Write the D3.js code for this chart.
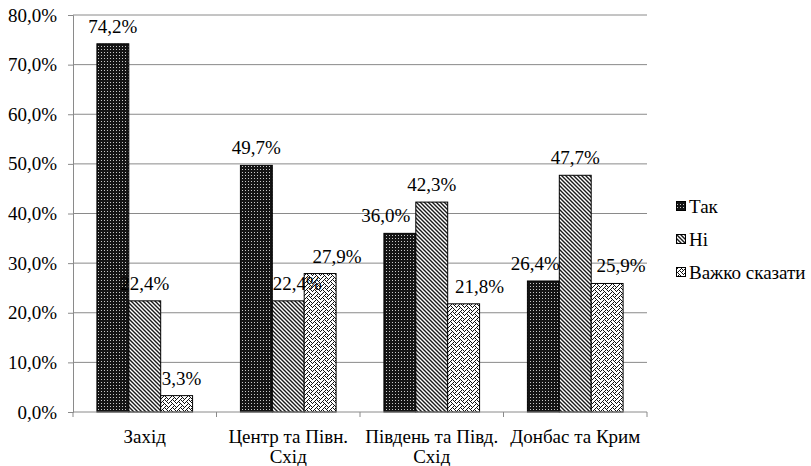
<!DOCTYPE html>
<html>
<head>
<meta charset="utf-8">
<script src="https://cdn.jsdelivr.net/npm/d3@7"></script>
<style>
  body { margin: 0; background: #fff; }
</style>
</head>
<body>
<svg id="chart" width="811" height="466"></svg>
<script>
var regions = [["Захід"], ["Центр та Півн.", "Схід"], ["Південь та Півд.", "Схід"], ["Донбас та Крим"]];
var series = ["Так", "Ні", "Важко сказати"];
var tak = [74.2, 49.7, 36.0, 26.4];
var ni = [22.4, 22.4, 42.3, 47.7];
var vazhko = [3.3, 27.9, 21.8, 25.9];
var yTicks = [0, 10, 20, 30, 40, 50, 60, 70, 80];

var values = [tak, ni, vazhko];
var fills = ["url(#patTak)", "url(#patNi)", "url(#patVazhko)"];
var serif = "Liberation Serif";
var fs = 19;
// label nudges as placed in the original (px), per series then region
var labelShift = [[0, 0, -14, -8], [0, 9, 0, 0], [5, 17, 16, 14]];

var svg = d3.select("#chart"),
    margin = {top: 15, right: 164, bottom: 54, left: 73},
    width = +svg.attr("width") - margin.left - margin.right,
    height = +svg.attr("height") - margin.top - margin.bottom,
    g = svg.append("g").attr("transform", "translate(" + margin.left + "," + margin.top + ")");

// fill patterns
var defs = svg.append("defs");
var p1 = defs.append("pattern").attr("id", "patTak").attr("patternUnits", "userSpaceOnUse")
    .attr("width", 3).attr("height", 3);
p1.append("rect").attr("width", 3).attr("height", 3).attr("fill", "#141414");
p1.append("rect").attr("x", 1).attr("y", 1).attr("width", 1).attr("height", 1).attr("fill", "#c8c8c8");

var p2 = defs.append("pattern").attr("id", "patNi").attr("patternUnits", "userSpaceOnUse")
    .attr("width", 4).attr("height", 4);
p2.append("rect").attr("width", 4).attr("height", 4).attr("fill", "#fff");
p2.append("path").attr("d", "M-1,-1 L5,5 M-1,3 L1,5 M3,-1 L5,1")
    .attr("stroke", "#1a1a1a").attr("stroke-width", 1.4);

var weave = [0x11, 0x2A, 0x44, 0xA2, 0x11, 0x28, 0x44, 0x8A];
var p3 = defs.append("pattern").attr("id", "patVazhko").attr("patternUnits", "userSpaceOnUse")
    .attr("width", 8).attr("height", 8);
p3.append("rect").attr("width", 8).attr("height", 8).attr("fill", "#fff");
weave.forEach(function(row, r) {
  for (var c = 0; c < 8; c++) {
    if (row & (0x80 >> c)) {
      p3.append("rect").attr("x", c).attr("y", r).attr("width", 1).attr("height", 1).attr("fill", "#111");
    }
  }
});

var x = d3.scaleBand().domain(d3.range(regions.length)).range([0, width]).padding(0);
var inner = d3.scaleBand().domain(d3.range(series.length))
    .range([0, x.bandwidth()]).paddingOuter(0.75).paddingInner(0);
var y = d3.scaleLinear().domain([0, 80]).range([height, 0]);

// gridlines
g.selectAll(".grid").data(yTicks.slice(1)).enter().append("line")
    .attr("x1", 0).attr("x2", width)
    .attr("y1", function(d) { return y(d); }).attr("y2", function(d) { return y(d); })
    .attr("stroke", "#8a8a8a").attr("stroke-width", 1);

// y axis
var yAxis = g.append("g")
    .call(d3.axisLeft(y).tickValues(yTicks).tickSize(5).tickPadding(11)
      .tickFormat(function(d) { return d.toFixed(1).replace(".", ",") + "%"; }));
yAxis.attr("font-family", serif).attr("font-size", fs);
yAxis.select(".domain").attr("stroke", "#8a8a8a").attr("d", "M-5," + (height + 0.5) + "H0.5V0.5H-5");
yAxis.selectAll(".tick line").attr("stroke", "#8a8a8a");
yAxis.selectAll(".tick text").attr("fill", "#000");

// bars
for (var s = 0; s < series.length; s++) {
  g.selectAll(".bar" + s).data(values[s]).enter().append("rect")
      .attr("x", function(d, i) { return x(i) + inner(s); })
      .attr("y", function(d) { return y(d); })
      .attr("width", inner.bandwidth())
      .attr("height", function(d) { return height - y(d); })
      .attr("fill", fills[s])
      .attr("stroke", "#000").attr("stroke-width", 1);
}

// x axis
var xAxis = g.append("g").attr("transform", "translate(0," + height + ")");
xAxis.append("line").attr("x1", 0).attr("x2", width).attr("stroke", "#8a8a8a");
xAxis.selectAll(".xt").data(d3.range(regions.length + 1)).enter().append("line")
    .attr("x1", function(d) { return d * x.bandwidth(); })
    .attr("x2", function(d) { return d * x.bandwidth(); })
    .attr("y1", 0).attr("y2", 5).attr("stroke", "#8a8a8a");
regions.forEach(function(lines, i) {
  var t = xAxis.append("text").attr("text-anchor", "middle").attr("font-size", fs)
      .attr("font-family", serif)
      .attr("x", x(i) + x.bandwidth() / 2).attr("y", 31);
  lines.forEach(function(l, k) {
    t.append("tspan").attr("x", x(i) + x.bandwidth() / 2).attr("dy", k === 0 ? 0 : 20).text(l);
  });
});

// labels
for (var s2 = 0; s2 < series.length; s2++) {
  g.selectAll(".lab" + s2).data(values[s2]).enter().append("text")
      .attr("text-anchor", "middle").attr("font-size", fs).attr("font-family", serif)
      .attr("x", function(d, i) { return x(i) + inner(s2) + inner.bandwidth() / 2 + labelShift[s2][i]; })
      .attr("y", function(d) { return y(d) - 11; })
      .text(function(d) { return d.toFixed(1).replace(".", ",") + "%"; });
}

// legend
var legend = svg.append("g").attr("transform", "translate(676,206)");
series.forEach(function(name, i) {
  legend.append("rect").attr("x", 0.5).attr("y", i * 33 - 4.5).attr("width", 9).attr("height", 9)
      .attr("fill", fills[i]).attr("stroke", "#000").attr("stroke-width", 1);
  legend.append("text").attr("x", 13).attr("y", i * 33 + 6.5).attr("font-size", fs)
      .attr("font-family", serif).text(name);
});
</script>
</body>
</html>
